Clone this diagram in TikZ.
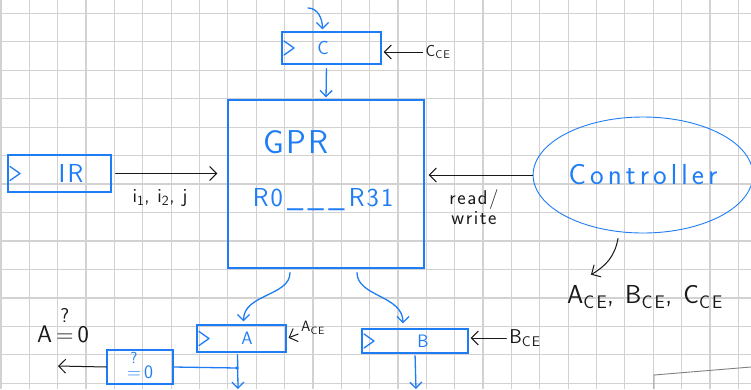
\documentclass[tikz,border=0pt]{standalone}
\usepackage{fontspec}
\newfontfamily\handfont{Latin Modern Sans}[LetterSpace=8]
\usetikzlibrary{arrows.meta,shapes.geometric}

\definecolor{inkblue}{RGB}{30,125,245}
\definecolor{inkblack}{RGB}{25,25,25}
\definecolor{gridgray}{RGB}{210,210,210}

\newcommand\inksize[1]{\fontsize{#1}{#1}\selectfont}
% "=" with a question mark above it
\newcommand\qeq[2]{\begin{tabular}[b]{@{}c@{}}\inksize{#1}?\\[#2]=\end{tabular}}

\tikzset{
  gridline/.style={gridgray, line width=1.2pt},
  ink/.style={inkblue, line width=1.3pt, line cap=round, line join=round},
  flow/.style={ink, -{Straight Barb[length=6pt,width=12pt]}},
  wire/.style={inkblack, line width=1pt, line cap=round,
    -{Straight Barb[length=7pt,width=14pt]}},
  bluetext/.style={text=inkblue, inner sep=0pt},
  blacktext/.style={text=inkblack, inner sep=0pt},
  % register with clock mark on the left
  regbox/.style={draw=inkblue, line width=1.3pt, text=inkblue, inner sep=0pt,
    path picture={
      \draw[ink] ([xshift=2pt,yshift=7pt]path picture bounding box.west)
        -- ([xshift=12pt]path picture bounding box.west)
        -- ([xshift=2pt,yshift=-7pt]path picture bounding box.west);
    }},
}

\begin{document}
\begin{tikzpicture}[x=1pt, y=-1pt, font=\handfont]
\useasboundingbox (0,0) rectangle (751,389);
\fill[white] (0,0) rectangle (751,389);

% squared paper
\begin{scope}
  \clip (0,0) rectangle (751,389);
  \foreach \gx in {0,...,26}
    \draw[gridline] ({0.94+28.36*\gx},0) -- ++(0,389);
  \foreach \gy in {0,...,13}
    \draw[gridline] (0,{13.3+28.46*\gy}) -- ++(751,0);
\end{scope}

% registers and register file
\node[regbox, minimum width=99, minimum height=32, font=\handfont\inksize{19}]
  (c) at (331.5,48) {C\hspace*{17pt}};
\node[draw=inkblue, line width=1.3pt, minimum width=196, minimum height=168]
  (gpr) at (326,184) {};
\node[bluetext, font=\handfont\inksize{33}] (gprname) at (296,142) {GPR};
\node[bluetext, font=\handfont\inksize{26}] (regs) at (323,200) {R0\,\_\,\_\,\_\,R31};
\node[regbox, minimum width=103, minimum height=37, font=\handfont\inksize{26}]
  (ir) at (59.5,173.5) {\hspace*{23pt}IR};
\node[regbox, minimum width=89, minimum height=27, font=\handfont\inksize{18}]
  (a) at (241.5,338.5) {\hspace*{11pt}A};
\node[regbox, minimum width=106, minimum height=24, font=\handfont\inksize{18}]
  (b) at (415,341) {\hspace*{16pt}B};
\node[draw=inkblue, line width=1.3pt, text=inkblue, minimum width=66, minimum height=32,
  inner sep=0pt, font=\handfont\inksize{19}] (zero) at (140,367) {\qeq{16}{-4pt}\,0};
\node[ellipse, draw=inkblue, line width=0.9pt, minimum width=216, minimum height=116,
  text=inkblue, font=\handfont\inksize{29}\addfontfeatures{LetterSpace=14}]
  (ctrl) at (643,175) {Controller};

% labels
\node[blacktext, font=\handfont\inksize{16}] (cce) at (438,52) {C\textsubscript{CE}};
\node[blacktext, font=\handfont\inksize{20}] (idx) at (160,198)
  {i\textsubscript{1}, i\textsubscript{2}, j};
\node[blacktext, align=center, font=\handfont\inksize{20}] (rw) at (474,207) {read/\\write};
\node[blacktext, font=\handfont\inksize{26}\addfontfeatures{LetterSpace=12}] (sig)
  at (645,297) {A\textsubscript{CE}, B\textsubscript{CE}, C\textsubscript{CE}};
\node[blacktext, font=\handfont\inksize{15}] (ace) at (313,328) {A\textsubscript{CE}};
\node[blacktext, font=\handfont\inksize{20}] (bce) at (525,338) {B\textsubscript{CE}};
\node[blacktext, font=\handfont\inksize{24}] (atest) at (63,328) {A\,\qeq{20}{-4pt}\,0};

\coordinate (cin) at (308,8);
\coordinate (aout) at (238,389);
\coordinate (bout) at (416,389);
\coordinate (tap) at (237,368);
\coordinate (zout) at (58,366);

% data paths
\draw[flow] (cin) to[out=0,in=90] ([xshift=-9pt,yshift=2pt]c.north);
\draw[flow, shorten <=4pt, shorten >=2pt] ([xshift=-5pt]c.south) -- (gpr.north);
\draw[flow, shorten <=4pt] ([xshift=-36pt]gpr.south) to[out=-90,in=90]
  ([xshift=2pt,yshift=3pt]a.north);
\draw[flow, shorten <=4pt] ([xshift=31pt]gpr.south) to[out=-90,in=90]
  ([xshift=-12pt,yshift=5pt]b.north);
\draw[flow, shorten <=2pt] ([xshift=-4pt]a.south) -- (aout);
\draw[flow, shorten <=2pt] (b.south) -- (bout);
\draw[ink] (zero.east) -- (tap);
\fill[inkblue] (tap) circle (1.8pt);

% control signals
\draw[wire, shorten <=4pt, shorten >=10pt] (ir.east) -- (ir.east -| gpr.west);
\draw[wire, shorten >=4pt] (ctrl.west) -- (ctrl.west -| gpr.east);
\draw[wire, shorten <=3pt, shorten >=2pt] (cce.west) -- (cce.west -| c.east);
\draw[wire, shorten <=3pt, shorten >=2pt] ([yshift=-5pt]ace.west) -- (a.east);
\draw[wire, shorten <=3pt, shorten >=2pt] (bce.west) -- (bce.west -| b.east);
\draw[wire] ([xshift=-25pt,yshift=-5pt]ctrl.south) to[out=-100,in=30]
  ([xshift=24pt,yshift=11pt]sig.north west);
\draw[wire] (zero.west) -- (zout);

% edge of the next sheet
\draw[gray, line width=0.9pt] (654,389) -- (654,375) -- (751,367);
\end{tikzpicture}
\end{document}
